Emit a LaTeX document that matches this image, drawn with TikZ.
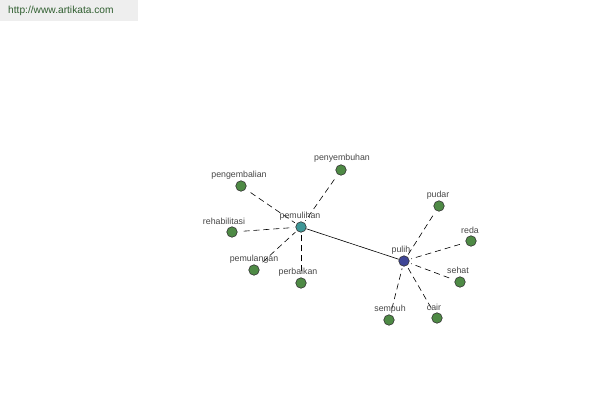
\documentclass[tikz,border=0pt]{standalone}
\usepackage{fontspec}
\setmainfont{Liberation Sans}
\begin{document}
\begin{tikzpicture}[x=1pt,y=-1pt,
  leaf/.style={circle,draw=black!80,fill=leafgreen,minimum size=10.5pt,inner sep=0pt,line width=0.6pt},
  hubA/.style={circle,draw=black!80,fill=tealhub,minimum size=10.5pt,inner sep=0pt,line width=0.6pt},
  hubB/.style={circle,draw=black!80,fill=bluehub,minimum size=10.5pt,inner sep=0pt,line width=0.6pt},
  lbl/.style={font=\fontsize{8.8}{9}\selectfont,text=black!72,inner sep=0pt},
  dashedge/.style={dashed,dash pattern=on 6pt off 4pt,line width=0.6pt,shorten <=6pt,shorten >=2pt},
]
\definecolor{leafgreen}{HTML}{4E8A45}
\definecolor{tealhub}{HTML}{3E9696}
\definecolor{bluehub}{HTML}{3F4696}
\definecolor{hdrgray}{HTML}{EEEEEE}
\definecolor{hdrtext}{HTML}{2F5E2F}
\useasboundingbox (0,0) rectangle (600,400);
\fill[white] (0,0) rectangle (600,400);
\node[fill=hdrgray,minimum width=138pt,minimum height=21pt,anchor=north west,inner sep=0pt] (hdr) at (0,0) {};
\node[anchor=west,font=\fontsize{10.2}{11}\selectfont,text=hdrtext,inner sep=0pt] (url) at (8,11) {http://www.artikata.com};
% nodes
\node[hubA] (pemulihan) at (301,227) {};
\node[hubB] (pulih) at (404,261) {};
\node[leaf] (pengembalian) at (241,186) {};
\node[leaf] (penyembuhan) at (341,170) {};
\node[leaf] (rehabilitasi) at (232,232) {};
\node[leaf] (pemulangan) at (254,270) {};
\node[leaf] (perbaikan) at (301,283) {};
\node[leaf] (pudar) at (439,206) {};
\node[leaf] (reda) at (471,241) {};
\node[leaf] (sehat) at (460,282) {};
\node[leaf] (cair) at (437,318) {};
\node[leaf] (sempuh) at (389,320) {};
% edges
\draw[line width=0.6pt] (pemulihan) -- (pulih);
\foreach \n in {pengembalian,penyembuhan,rehabilitasi,pemulangan,perbaikan}
  \draw[dashedge] (\n) -- (pemulihan);
\foreach \n in {pudar,reda,sehat,cair,sempuh}
  \draw[dashedge] (\n) -- (pulih);
% labels
\node[lbl] (lpemulihan) at (300,216) {pemulihan};
\node[lbl] (lpulih) at (401,250) {pulih};
\node[lbl] (lpengembalian) at (239,175) {pengembalian};
\node[lbl] (lpenyembuhan) at (342,158) {penyembuhan};
\node[lbl] (lrehabilitasi) at (224,221) {rehabilitasi};
\node[lbl] (lpemulangan) at (254,259) {pemulangan};
\node[lbl] (lperbaikan) at (298,272) {perbaikan};
\node[lbl] (lpudar) at (438,195) {pudar};
\node[lbl] (lreda) at (470,230) {reda};
\node[lbl] (lsehat) at (458,270) {sehat};
\node[lbl] (lcair) at (434,307) {cair};
\node[lbl] (lsempuh) at (390,309) {sempuh};
\end{tikzpicture}
\end{document}
